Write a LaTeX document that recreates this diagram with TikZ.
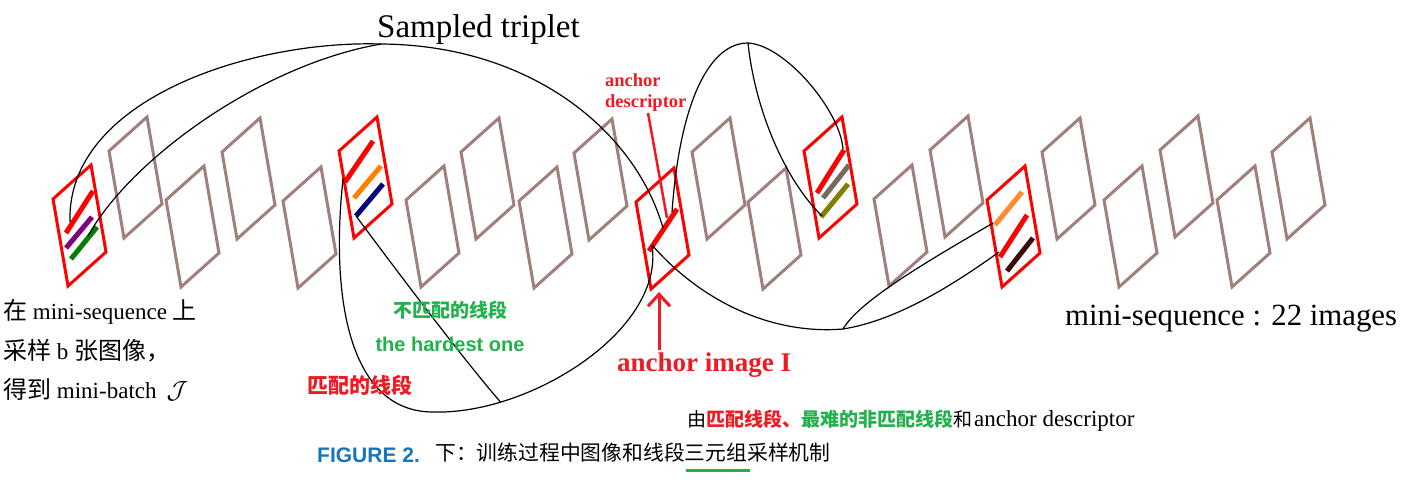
\documentclass[tikz,border=0pt]{standalone}
\usepackage{fontspec}
\setmainfont{Liberation Serif}
\setsansfont{Liberation Sans}
\newfontfamily\cjk{Noto Sans CJK SC}
\usetikzlibrary{arrows.meta}
\definecolor{framegray}{RGB}{160,128,124}
\definecolor{redtxt}{RGB}{237,28,36}
\definecolor{greentxt}{RGB}{34,177,76}
\definecolor{capblue}{RGB}{22,118,188}
\definecolor{segpurple}{RGB}{128,0,128}
\definecolor{seggreen}{RGB}{0,128,0}
\definecolor{segorange}{RGB}{255,128,0}
\definecolor{segnavy}{RGB}{0,0,128}
\definecolor{seggray}{RGB}{118,106,92}
\definecolor{segolive}{RGB}{128,128,0}
\definecolor{seglorange}{RGB}{255,140,50}
\definecolor{segbrown}{RGB}{60,10,10}
\begin{document}
\begin{tikzpicture}[x=1pt,y=-1pt,
  imgframe/.style={line width=3pt, draw=framegray},
  keyframe/.style={line width=3pt, draw=red},
  seg/.style={line width=5pt},
  link/.style={line width=1.2pt, draw=black},
  lbl/.style={inner sep=0pt, anchor=base west}]
\useasboundingbox (0,0) rectangle (1412,483);
\fill[white] (0,0) rectangle (1412,483);

% image frames
\foreach \px/\py in {109/151,166/200,222/152,283/201,406/200,461/152,519/201,574/153,692/152,748/202,874/199,930/150,1042/152,1104/200,1160/150,1217/200,1272/152}
  \draw[imgframe] (\px,\py) -- ++(38,-34) -- ++(15,87) -- ++(-38,34) -- cycle;
\foreach \px/\py in {53/199,339/151,636/202,804/151,987/200}
  \draw[keyframe] (\px,\py) -- ++(38,-34) -- ++(15,87) -- ++(-38,34) -- cycle;

% line segments
\draw[seg, red] (66,233) -- (93,191);
\draw[seg, segpurple] (66,248) -- (92,217);
\draw[seg, seggreen] (71,259) -- (97,227);
\draw[seg, red] (345,182) -- (373,141);
\draw[seg, segorange] (354,198) -- (381,166);
\draw[seg, segnavy] (356,216) -- (383,184);
\draw[seg, red] (649,251) -- (677,209);
\draw[seg, red] (817,193) -- (844,150);
\draw[seg, seggray] (823,198) -- (849,165);
\draw[seg, segolive] (821,217) -- (848,184);
\draw[seg, seglorange] (995,225) -- (1022,192);
\draw[seg, red] (1000,257) -- (1027,215);
\draw[seg, segbrown] (1007,271) -- (1033,238);

% connector points
\coordinate (apexA) at (381,44);
\coordinate (apexB) at (748,43);
\coordinate (r1red) at (70,222);
\coordinate (r1grn) at (88,236);
\coordinate (ancTop) at (663,228);
\coordinate (ancUp) at (672,212);
\coordinate (ancLow) at (652,245);
\coordinate (r6red) at (343,179);
\coordinate (r6navy) at (356,216);
\coordinate (ubot) at (433,412);
\coordinate (r14red) at (843,149);
\coordinate (r14olv) at (822,216);
\coordinate (dbot) at (843,329);
\coordinate (r17org) at (993,223);
\coordinate (r17red) at (999,252);

% connectors
\draw[link] (r1red) .. controls (66,100) and (250,40) .. (apexA);
\draw[link] (apexA) .. controls (260,65) and (130,160) .. (r1grn);
\draw[link] (apexA) .. controls (530,45) and (635,130) .. (ancTop);
\draw[link] (r6red) .. controls (330,300) and (350,412) .. (ubot);
\draw[link] (ubot) .. controls (530,415) and (665,330) .. coordinate[pos=0.22] (navyend) (ancLow);
\draw[link] (r6navy) .. controls (400,275) and (460,355) .. (navyend);
\draw[link] (ancUp) .. controls (680,100) and (710,43) .. (apexB);
\draw[link] (apexB) .. controls (785,45) and (840,110) .. (r14red);
\draw[link] (apexB) .. controls (755,110) and (785,180) .. (r14olv);
\draw[link] (ancLow) .. controls (700,300) and (770,335) .. (dbot);
\draw[link] (dbot) .. controls (860,300) and (930,260) .. (r17org);
\draw[link] (dbot) .. controls (900,320) and (960,280) .. (r17red);

% anchor descriptor pointer and anchor arrow
\coordinate (dptrA) at (648,113);
\coordinate (dptrB) at (667,218);
\draw[line width=2.5pt, redtxt] (dptrA) -- (dptrB);
\coordinate (arrbase) at (659,350);
\coordinate (arrtip) at (659,292);
\draw[line width=3pt, redtxt, -{Straight Barb[length=12pt,width=22pt]}] (arrbase) -- (arrtip);

% texts
\node[lbl, font=\fontsize{33}{36}\selectfont] (title) at (377,37) {Sampled triplet};
\node[lbl, text=redtxt, font=\bfseries\fontsize{18.5}{21}\selectfont] (desc1) at (605,86) {anchor};
\node[lbl, text=redtxt, font=\bfseries\fontsize{18.5}{21}\selectfont] (desc2) at (605,107) {descriptor};
\node[lbl, text=redtxt, font=\bfseries\fontsize{27}{30}\selectfont] (aimg) at (617,371) {anchor image I};
\node[lbl, font=\fontsize{30.8}{34}\selectfont] (mseq) at (1065,325) {mini-sequence : 22 images};

\node[lbl, font=\fontsize{23}{26}\selectfont] (left1) at (3,319) {{\cjk\fontsize{24}{26}\selectfont 在} mini-sequence {\cjk\fontsize{24}{26}\selectfont 上}};
\node[lbl, font=\fontsize{23}{26}\selectfont] (left2) at (3,359) {{\cjk\fontsize{24}{26}\selectfont 采样} b {\cjk\fontsize{24}{26}\selectfont 张图像，}};
\node[lbl, font=\fontsize{23}{26}\selectfont] (left3) at (3,398) {{\cjk\fontsize{24}{26}\selectfont 得到} mini-batch\hspace{10pt}{\fontsize{30}{32}\selectfont$\mathcal{J}$}};

\node[text=greentxt, inner sep=0pt, font=\cjk\bfseries\fontsize{19}{22}\selectfont] (nomatch) at (450,310) {不匹配的线段};
\node[text=greentxt, inner sep=0pt, font=\sffamily\bfseries\fontsize{20}{24}\selectfont] (hard) at (450,344) {the hardest one};
\node[text=redtxt, inner sep=0pt, font=\cjk\bfseries\fontsize{21}{24}\selectfont] (match) at (360,385) {匹配的线段};

\node[lbl] (expl) at (687,426) {{\cjk\fontsize{19}{22}\selectfont 由}{\cjk\bfseries\fontsize{19}{22}\selectfont\color{redtxt}匹配线段、}{\cjk\bfseries\fontsize{19}{22}\selectfont\color{greentxt}最难的非匹配线段}{\cjk\fontsize{19}{22}\selectfont 和}\hspace{2pt}{\fontsize{23}{26}\selectfont anchor descriptor}};

\node[lbl, text=capblue, font=\sffamily\bfseries\fontsize{21}{24}\selectfont] (figlab) at (317,462) {FIGURE 2.};
\node[lbl, font=\cjk\fontsize{20.8}{24}\selectfont] (figcap) at (435,460) {下：训练过程中图像和线段三元组采样机制};
\coordinate (ulA) at (686,470);
\coordinate (ulB) at (750,470);
\draw[line width=3pt, greentxt] (ulA) -- (ulB);
\end{tikzpicture}
\end{document}
